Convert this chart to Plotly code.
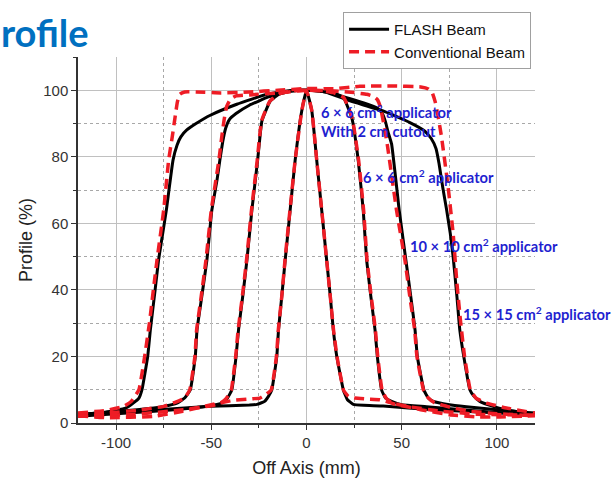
import plotly.graph_objects as go

# ---------------- data ----------------
# 15 x 15 cm2 applicator
x15_flash = [-120, -105, -95, -91, -88, -86.4, -83.4, -82, -79.5, -77.7, -75.5, -73.6, -70.1, -68, -66, -63, -58, -50.5, -36.6, -20.8, -7, 0, 10, 22.9, 40.2, 54.3, 62, 65.5, 68, 69.6, 71.5, 73.6, 75.5, 77, 79, 80.5, 82.6, 85.8, 88, 91, 98, 105, 120]
y15_flash = [2.5, 3.3, 4.5, 6, 7.5, 10, 20, 28, 40, 49, 57, 64, 79, 83.5, 86, 88, 90, 92.5, 95.8, 98.8, 100, 100, 99.5, 96.8, 93.8, 90.3, 87.8, 85.5, 82.5, 78, 71, 64, 57, 50, 38, 28, 20, 10, 8, 6.5, 5, 4, 2.5]
x15_conv = [-120, -105, -96, -92, -88, -85, -82.5, -80, -78.5, -75, -72.4, -70.5, -69, -67.8, -66.5, -64, -58, -45, -30, -15, 0, 15, 28, 45, 60, 64, 66, 67.6, 69, 70.9, 74.4, 77, 79, 81, 83, 86, 89, 94.5, 105, 120]
y15_conv = [3, 3.8, 5, 6.5, 10, 20, 30, 42, 49, 64, 79, 86, 92, 96.5, 98.8, 99.5, 99.5, 99.2, 99.5, 100, 100.5, 100.5, 101.2, 101.3, 101, 100.4, 99.3, 96.5, 92.5, 86, 70.8, 57, 42, 30, 20, 10, 7.5, 6, 4.5, 3]

# 10 x 10 cm2 applicator
x10_flash = [-120, -105, -89, -75, -68, -64, -61, -58.4, -57.5, -55, -52.3, -49.7, -47, -45.5, -44, -42.5, -40.5, -37, -30, -20, -8, 0, 10, 22.9, 32, 37.5, 39.8, 41.5, 42.8, 44.7, 48.7, 52.2, 55, 57, 58.2, 61.7, 64, 66.6, 75, 84, 100, 110, 120]
y10_flash = [2.5, 3.2, 4, 5, 6, 7.5, 10, 20, 28, 38, 49, 64, 73, 79, 84.5, 88.5, 91.2, 93, 95.5, 98, 99.8, 100, 99.5, 97.5, 95.8, 94.5, 93, 90.5, 87.5, 83.8, 63.9, 48.9, 37, 28, 20, 9.8, 7.5, 6.5, 5.5, 4.9, 4, 3.4, 3]
x10_conv = [-120, -105, -89, -75, -69, -64, -61.3, -58.6, -57.7, -55.3, -52.8, -50, -46, -44.5, -43.3, -42, -40, -37, -30, -15, 0, 15, 25, 31.6, 35, 37.2, 38.8, 40.2, 42.4, 47.3, 51.7, 54.5, 56.8, 58, 61.5, 64, 67, 75, 85, 100, 120]
y10_conv = [2.2, 3.0, 3.8, 5, 6.2, 7.5, 10, 20, 28, 38, 49, 64, 79, 86, 91, 95, 97.3, 98.3, 98.6, 99.2, 100, 99.8, 99.3, 98.8, 98.2, 97.2, 95, 91, 83.8, 63.9, 48.9, 37, 28, 20, 9.8, 7.5, 6.2, 4.8, 3.6, 2.8, 2.2]

# 6 x 6 cm2 applicator
x6_flash = [-120, -80, -55, -47, -44.4, -41.5, -39.2, -37, -35.7, -33.5, -31.3, -28.7, -25.7, -23.4, -19.1, -14, -8, 0, 8, 14, 19.4, 23.8, 27.2, 29.8, 31.6, 33.8, 36, 37.2, 39.5, 41.5, 44.7, 50, 63, 94.5, 120]
y6_flash = [2, 3.5, 4.8, 5.6, 6, 7.5, 10, 20, 28, 38, 48.9, 63.9, 78.8, 90.8, 96.7, 99, 99.8, 100, 99.8, 99.3, 97.8, 91.7, 78.8, 63.9, 48.9, 38, 27.9, 20, 9.8, 7.5, 6.5, 5.5, 4.9, 3.4, 2.5]
x6_conv = [-120, -90, -65, -50, -45, -42, -39.5, -37.2, -35.9, -33.7, -31.5, -28.9, -25.9, -23.6, -19.3, -14, -8, 0, 8, 14, 19.6, 24, 27.4, 30, 31.8, 34, 36.2, 37.4, 39.7, 41.8, 45, 55, 70, 90, 120]
y6_conv = [2, 2.6, 4, 5.2, 6, 7.5, 10, 20, 28, 38, 48.9, 63.9, 78.8, 90.8, 96.7, 99, 99.8, 100, 99.8, 99.3, 97.8, 91.7, 78.8, 63.9, 48.9, 38, 27.9, 20, 9.8, 7.5, 6, 4.8, 3.6, 2.6, 2.4]

# 6 x 6 cm2 applicator with 2 cm cutout
xc_flash = [-120, -89, -50.6, -30, -26, -22, -20, -18.2, -15.6, -14.7, -13, -11.2, -8.6, -6, -2.5, 0, 2.8, 5.4, 8, 10.6, 12.5, 14.1, 15.9, 19.4, 21.5, 24.6, 30, 40.3, 66.4, 120]
yc_flash = [2.5, 3.5, 5, 5.4, 5.6, 6.5, 8, 10, 20, 28, 38, 48.9, 63.9, 78.8, 93.8, 100, 93.8, 78.8, 63.9, 48.9, 38, 27.9, 20, 9.8, 7, 5.6, 5.3, 5.1, 4, 2.5]
xc_conv = [-120, -105, -80, -65, -50, -38.5, -28, -24.5, -21.5, -18.5, -15.8, -14.8, -13, -11.3, -8.7, -6, -2.5, 0, 2.8, 5.4, 8, 10.6, 12.5, 14.2, 16, 19.5, 22, 25.5, 32, 38.6, 45.6, 60, 75, 90, 100, 120]
yc_conv = [2.2, 1.6, 2, 3.5, 5.5, 6.8, 7.3, 7.5, 8.5, 10, 20, 28, 38, 48.9, 63.9, 78.8, 93.8, 100, 93.8, 78.8, 63.9, 48.9, 38, 27.9, 20, 9.8, 8, 7.5, 7.2, 7, 5.8, 4, 2.5, 1.8, 1.8, 2.2]

x_tick_vals = [-100, -50, 0, 50, 100]
x_tick_text = ["-100", "-50", "0", "50", "100"]
y_tick_vals = [0, 20, 40, 60, 80, 100]

labels = [
    ("6 × 6 cm<sup>2</sup> applicator", 6.5, 93.6),
    ("With 2 cm cutout", 6.5, 87.9),
    ("6 × 6 cm<sup>2</sup> applicator", 28.8, 74.0),
    ("10 × 10 cm<sup>2</sup> applicator", 53.3, 53.3),
    ("15 × 15 cm<sup>2</sup> applicator", 81.3, 32.9),
]

# ---------------- figure ----------------
fig = go.Figure()
flash = [(x15_flash, y15_flash), (x10_flash, y10_flash), (x6_flash, y6_flash), (xc_flash, yc_flash)]
conv = [(x15_conv, y15_conv), (x10_conv, y10_conv), (x6_conv, y6_conv), (xc_conv, yc_conv)]

for i, (xs, ys) in enumerate(flash):
    fig.add_trace(go.Scatter(x=xs, y=ys, mode="lines", name="FLASH Beam",
                             legendgroup="flash", showlegend=(i == 0),
                             line=dict(color="black", width=3, shape="spline", smoothing=0.35)))
for i, (xs, ys) in enumerate(conv):
    fig.add_trace(go.Scatter(x=xs, y=ys, mode="lines", name="Conventional Beam",
                             legendgroup="conv", showlegend=(i == 0),
                             line=dict(color="#ee1c25", width=3.5, dash="10px,6px",
                                       shape="spline", smoothing=0.35)))

for text, xv, yv in labels:
    fig.add_annotation(x=xv, y=yv, xref="x", yref="y", text=text, showarrow=False,
                       xanchor="left", yanchor="middle",
                       font=dict(family="Lato", size=14.7, color="#1f1fd0", weight="bold"))

fig.add_annotation(x=-0.172, y=1.068, xref="paper", yref="paper", text="rofile", showarrow=False,
                   xanchor="left", yanchor="middle",
                   font=dict(family="Lato", size=38, color="#0070c0", weight="bold"))

axis_font = dict(family="Liberation Sans, Arial", size=15, color="#333333")
fig.update_xaxes(range=[-120, 120], tickvals=x_tick_vals, ticktext=x_tick_text,
                 showline=True, linecolor="#333333", linewidth=1.5, automargin=False,
                 ticks="outside", ticklen=5, tickcolor="#333333", tickfont=axis_font,
                 showgrid=True, gridcolor="#c0c0c0", gridwidth=1, zeroline=False,
                 minor=dict(dtick=25, tick0=0, showgrid=True, gridcolor="#a8a8a8", griddash="dot",
                            ticks="outside", ticklen=3, tickcolor="#333333"),
                 title=dict(text="Off Axis (mm)", font=dict(family="Liberation Sans, Arial", size=18, color="#222222"), standoff=12))
fig.update_yaxes(range=[0, 110], tickvals=y_tick_vals,
                 showline=True, linecolor="#333333", linewidth=1.5, automargin=False,
                 ticks="outside", ticklen=5, tickcolor="#333333", tickfont=axis_font,
                 showgrid=True, gridcolor="#c0c0c0", gridwidth=1, zeroline=False,
                 minor=dict(dtick=10, tick0=0, showgrid=True, gridcolor="#a8a8a8", griddash="dot",
                            ticks="outside", ticklen=3, tickcolor="#333333"),
                 title=dict(text="Profile (%)", font=dict(family="Liberation Sans, Arial", size=18, color="#222222"), standoff=6))

fig.update_layout(
    width=613, height=482,
    margin=dict(l=78, r=78, t=57, b=59),
    paper_bgcolor="white", plot_bgcolor="white",
    showlegend=True,
    legend=dict(x=0.58, y=1.123, xanchor="left", yanchor="top",
                bgcolor="white", bordercolor="#a0a0a0", borderwidth=1,
                font=dict(family="Liberation Sans, Arial", size=15, color="#111111"),
                tracegroupgap=0, itemwidth=40),
)

fig.write_html("out.html")
